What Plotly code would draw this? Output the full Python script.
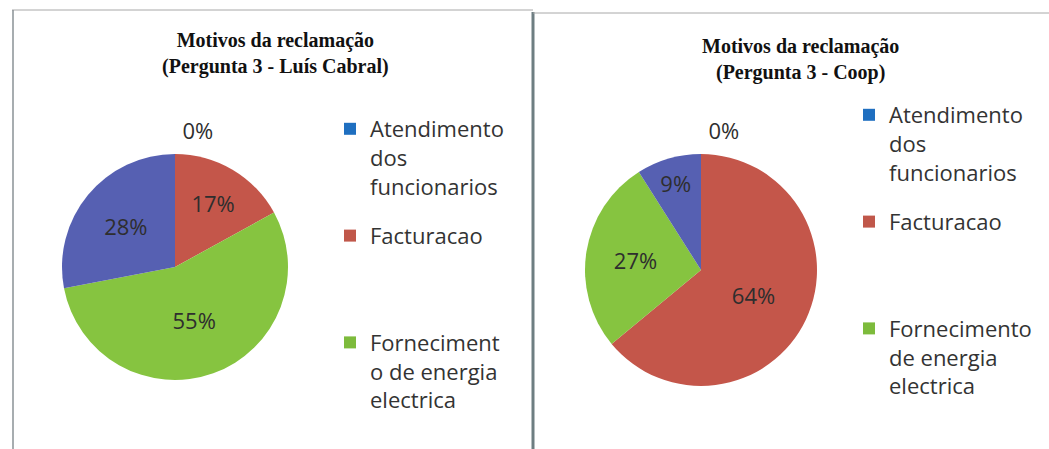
import plotly.graph_objects as go

# dados dos dois graficos (percentagens)
fatias = ["Sem resposta", "Facturacao", "Fornecimento de energia electrica", "Atendimento dos funcionarios"]
valores_luis = [0, 17, 55, 28]
valores_coop = [0, 64, 27, 9]

titulo_luis = "Motivos da reclamação<br>(Pergunta 3 - Luís Cabral)"
titulo_coop = "Motivos da reclamação<br>(Pergunta 3 - Coop)"

legenda_luis = ["Atendimento<br>dos<br>funcionarios", "Facturacao<br> <br> ", "Forneciment<br>o de energia<br>electrica"]
legenda_coop = ["Atendimento<br>dos<br>funcionarios", "Facturacao<br> <br> ", "Fornecimento<br>de energia<br>electrica"]

cores_fatias = ["#FFFFFF", "#C4564A", "#86C440", "#5660B2"]
cores_legenda = ["#1F6FC0", "#C0574A", "#7DBB3C"]

W, H = 1049, 449
PULL = 0.08  # afasta o rotulo "0%" do topo da tarte


def px_x(v):
    return v / W


def px_y(v):
    return 1 - v / H


def dominio(cx, cy, r):
    rr = r * (1 + PULL)
    return dict(x=[px_x(cx - rr), px_x(cx + rr)], y=[px_y(cy + rr), px_y(cy - rr)])


fig = go.Figure()

pie_comum = dict(
    labels=fatias,
    sort=False,
    direction="clockwise",
    rotation=0,
    textinfo="percent",
    textposition=["outside", "inside", "inside", "inside"],
    insidetextorientation="horizontal",
    textfont=dict(family="Open Sans", size=22, color="#2E2E2E"),
    marker=dict(colors=cores_fatias, line=dict(width=0)),
    pull=[PULL, 0, 0, 0],
    showlegend=False,
    hoverinfo="label+percent",
)

fig.add_trace(go.Pie(values=valores_luis, domain=dominio(175, 267, 113), **pie_comum))
fig.add_trace(go.Pie(values=valores_coop, domain=dominio(701, 270, 116), **pie_comum))

# legendas (uma por grafico)
for nome_leg, textos in [("legend", legenda_luis), ("legend2", legenda_coop)]:
    for i, (txt, cor) in enumerate(zip(textos, cores_legenda)):
        fig.add_trace(go.Scatter(
            x=[None], y=[None], mode="markers",
            marker=dict(symbol="square", size=12, color=cor),
            name=txt, legend=nome_leg, legendgroup=nome_leg + str(i),
            hoverinfo="skip",
        ))

leg_comum = dict(
    xanchor="left", yanchor="top",
    font=dict(family="Open Sans", size=22, color="#333333"),
    bgcolor="rgba(0,0,0,0)",
    traceorder="grouped",
    tracegroupgap=18,
    valign="top",
    itemclick=False,
)

fig.update_layout(
    width=W, height=H,
    margin=dict(l=0, r=0, t=0, b=0),
    paper_bgcolor="white",
    plot_bgcolor="white",
    xaxis=dict(visible=False),
    yaxis=dict(visible=False),
    legend=dict(x=px_x(330), y=px_y(108), **leg_comum),
    legend2=dict(x=px_x(849), y=px_y(94), **leg_comum),
    annotations=[
        dict(text=titulo_luis, x=px_x(275), y=px_y(53), xref="paper", yref="paper",
             xanchor="center", yanchor="middle", showarrow=False,
             font=dict(family="Liberation Serif", size=20, color="#111111")),
        dict(text=titulo_coop, x=px_x(800), y=px_y(59), xref="paper", yref="paper",
             xanchor="center", yanchor="middle", showarrow=False,
             font=dict(family="Liberation Serif", size=20, color="#111111")),
    ],
    shapes=[
        dict(type="line", xref="paper", yref="paper", x0=px_x(12), x1=px_x(533), y0=px_y(10), y1=px_y(10),
             line=dict(color="#A8A8A8", width=1)),
        dict(type="line", xref="paper", yref="paper", x0=px_x(13), x1=px_x(13), y0=px_y(10), y1=0,
             line=dict(color="#8A9296", width=1.5)),
        dict(type="line", xref="paper", yref="paper", x0=px_x(533), x1=px_x(533), y0=px_y(12), y1=0,
             line=dict(color="#6E7E82", width=3)),
        dict(type="line", xref="paper", yref="paper", x0=px_x(533), x1=1, y0=px_y(13), y1=px_y(13),
             line=dict(color="#A8A8A8", width=1)),
    ],
)

# titulos em negrito
for a in fig.layout.annotations:
    a.text = "<b>" + a.text.replace("<br>", "</b><br><b>") + "</b>"

# tirar a margem da pagina para o grafico ocupar a janela toda
fig.write_html("out.html", config={"displayModeBar": False},
               post_script="document.body.style.margin='0px';")
